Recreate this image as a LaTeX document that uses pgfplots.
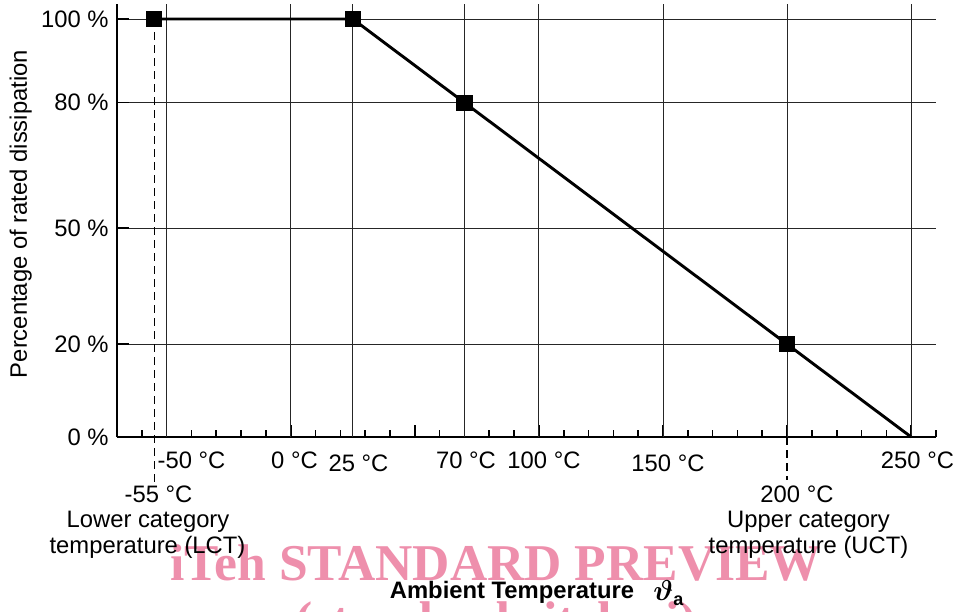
\documentclass[border=0pt]{standalone}
\usepackage{pgfplots}
\pgfplotsset{compat=1.18}
\usepackage{amsmath,bm}
\usepackage{fontspec}
\setmainfont{Liberation Sans}
\newfontfamily\wmfont{Liberation Serif}
\definecolor{wmpink}{RGB}{238,143,172}

\begin{document}
\fontsize{11.9pt}{14pt}\selectfont
\begin{tikzpicture}
\path[use as bounding box] (-58.5pt,-87pt) rectangle (421pt,218.5pt);
% watermark (drawn first, under everything)
\begin{scope}[x=0.5pt,y=-0.5pt,shift={(-58.5pt,218.5pt)}]
\node[anchor=base, inner sep=0, text=wmpink, font=\wmfont\bfseries\fontsize{25.8pt}{30pt}\selectfont] at (496,580) {iTeh STANDARD PREVIEW};
\node[anchor=base, inner sep=0, text=wmpink, font=\wmfont\bfseries\fontsize{25.8pt}{30pt}\selectfont] at (496,637) {(standards.iteh.ai)};
\end{scope}
\begin{axis}[
  at={(0,0)}, anchor=south west,
  scale only axis, width=409.5pt, height=216.3pt,
  xmin=-70, xmax=260, ymin=0, ymax=103.5,
  axis x line*=bottom, axis y line*=left,
  axis line style={line width=1pt},
  xtick={-50,0,50,70,100,150,200,250}, xticklabels={},
  minor xtick={-60,-50,...,260},
  major tick length=6pt, minor tick length=3.5pt,
  tick align=inside,
  tick style={black, line width=0.8pt},
  ytick={0,22.2,50,80,100},
  yticklabels={0 \%,20 \%,50 \%,80 \%,100 \%},
  ymajorgrids,
  extra x ticks={-50,0,25,70,100,150,200,250},
  extra x tick labels={},
  extra x tick style={xmajorgrids=true, major tick length=0pt},
  grid style={black!85, line width=0.5pt},
  clip=false,
]
\addplot[black, line width=0.6pt, dash pattern=on 4pt off 2.5pt, forget plot] coordinates {(-55,100) (-55,-10.8)};
\addplot[black, line width=0.6pt, dash pattern=on 4pt off 2.5pt, forget plot] coordinates {(200,0) (200,-10.3)};
\addplot[black, line width=1.45pt, mark=square*, mark size=3.3pt, mark options={solid}, mark indices={1,2,3,4}]
  coordinates {(-55,100) (25,100) (70,80) (200,22.2) (250,0)};
\end{axis}
\begin{scope}[x=0.5pt,y=-0.5pt,shift={(-58.5pt,218.5pt)}, every node/.style={inner sep=0}]
\node[anchor=base] at (191.5,468) {-50 °C};
\node[anchor=base] at (294.5,468) {0 °C};
\node[anchor=base] at (358.5,471) {25 °C};
\node[anchor=base] at (466,468) {70 °C};
\node[anchor=base] at (544,468) {100 °C};
\node[anchor=base] at (668,471) {150 °C};
\node[anchor=base] at (917.5,468) {250 °C};
\node[anchor=base] at (158.5,502) {-55 °C};
\node[anchor=base] at (148,527) {Lower category};
\node[anchor=base] at (147.5,553) {temperature (LCT)};
\node[anchor=base] at (797,502) {200 °C};
\node[anchor=base] at (808.5,527) {Upper category};
\node[anchor=base] at (808.5,553) {temperature (UCT)};
\node[anchor=base, rotate=90] at (27,214) {Percentage of rated dissipation};
\node[anchor=base] at (512,598) {\bfseries Ambient Temperature};
\node[anchor=base west] at (653,600) {\fontsize{14.5pt}{16pt}\selectfont$\bm{\vartheta}$\raisebox{-0.35ex}{\fontsize{9pt}{10pt}\selectfont\bfseries a}};
\end{scope}
\end{tikzpicture}
\end{document}
